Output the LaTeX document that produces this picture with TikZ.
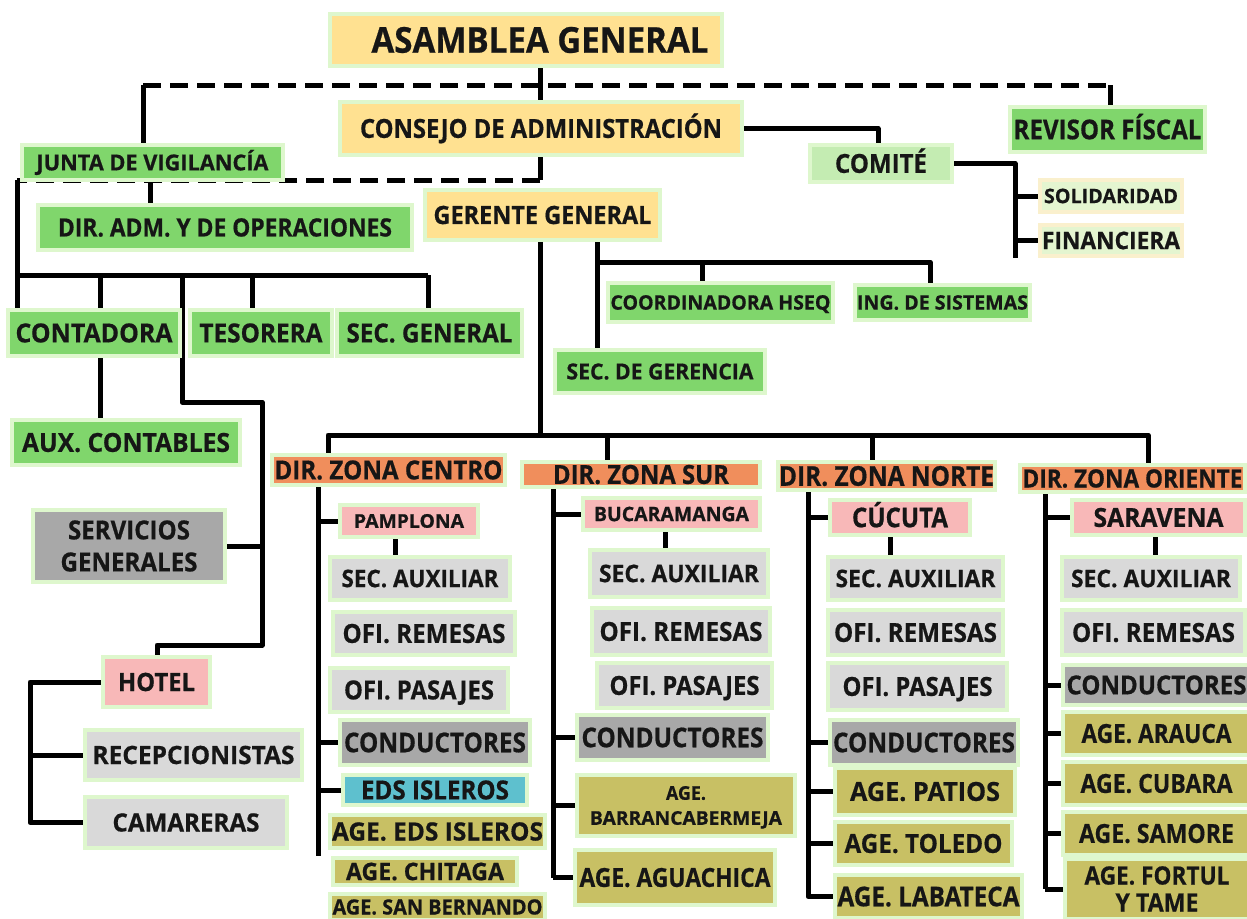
\documentclass[tikz,border=0pt]{standalone}
\usepackage{fontspec}
\setmainfont{Open Sans}[BoldFeatures={FakeBold=0.6}]
\usetikzlibrary{backgrounds,calc}
\definecolor{cy}{RGB}{255,225,145}
\definecolor{cg}{RGB}{128,214,108}
\definecolor{cgl}{RGB}{196,236,178}
\definecolor{cgv}{RGB}{228,245,208}
\definecolor{co}{RGB}{240,142,92}
\definecolor{cp}{RGB}{248,184,184}
\definecolor{cl}{RGB}{217,217,217}
\definecolor{cd}{RGB}{168,168,168}
\definecolor{cc}{RGB}{94,192,206}
\definecolor{cv}{RGB}{200,192,100}
\definecolor{glow}{RGB}{222,247,205}
\definecolor{glowy}{RGB}{250,240,205}
\definecolor{ink}{RGB}{22,22,22}
\newcommand\fitto[2]{\sbox0{#2}\pgfmathsetmacro\sx{#1/\the\wd0}\scalebox{\sx}[1]{\usebox0}}
\newcommand\T[3]{{\pgfmathsetmacro\fs{1.05*#1}\fontsize{\fs}{\fs}\selectfont\bfseries\smash{\fitto{#2}{#3}}\pgfmathsetmacro\ch{0.714*\fs}\rule{0pt}{\ch pt}}}
\tikzset{
  box/.style={rectangle, draw=glow, line width=4pt, inner sep=0pt, align=center, text=ink},
  ln/.style={line width=5pt, black, line join=round},
  dl/.style={line width=5pt, black, dash pattern=on 18pt off 9pt},
}
\newcommand\bx[7]{\node[box,fill=#6,minimum width={(#4-#2)*1pt},minimum height={(#5-#3)*1pt}] (#1) at ({(#2+#4)/2},{(#3+#5)/2}) {#7};}
\begin{document}
\begin{tikzpicture}[x=1pt,y=-1pt]
\useasboundingbox (0,0) rectangle (1247,918);
% top
\bx{asam}{330}{14}{722}{66}{cy}{\hspace*{28pt}\T{34}{337}{ASAMBLEA GENERAL}}
\bx{cons}{340}{102}{742}{155}{cy}{\T{25}{362}{CONSEJO DE ADMINISTRACIÓN}}
\bx{junta}{22}{145}{283}{180}{cg}{\T{21}{232}{JUNTA DE VIGILANCÍA}}
\bx{rev}{1010}{107}{1205}{152}{cg}{\T{26}{188}{REVISOR FÍSCAL}}
\bx{comite}{810}{145}{952}{182}{cgl}{\T{25}{92}{COMITÉ}}
\node[box,draw=glowy,fill=cgv,minimum width=142pt,minimum height=32pt] (soli) at (1111,196) {\T{19}{134}{SOLIDARIDAD}};
\node[box,draw=glowy,fill=cgv,minimum width=142pt,minimum height=31pt] (fin) at (1111,240.5) {\T{23}{138}{FINANCIERA}};
\bx{diradm}{38}{205}{412}{250}{cg}{\T{24}{334}{DIR. ADM. Y DE OPERACIONES}}
\bx{ger}{425}{190}{660}{240}{cy}{\T{24}{218}{GERENTE GENERAL}}
\bx{cont}{8}{310}{180}{356}{cg}{\T{25}{157}{CONTADORA}}
\bx{tes}{190}{310}{332}{356}{cg}{\T{25}{123}{TESORERA}}
\bx{secg}{337}{310}{522}{356}{cg}{\T{25}{166}{SEC. GENERAL}}
\bx{hseq}{608}{283}{833}{322}{cg}{\T{19}{220}{COORDINADORA HSEQ}}
\bx{ing}{855}{285}{1030}{320}{cg}{\T{19}{171}{ING. DE SISTEMAS}}
\bx{secger}{555}{350}{765}{393}{cg}{\T{21}{187}{SEC. DE GERENCIA}}
\bx{aux}{12}{420}{240}{465}{cg}{\T{25}{208}{AUX. CONTABLES}}
\node[box,fill=cd,minimum width=192pt,minimum height=72pt,font=\fontsize{25}{32}\selectfont] (serv) at (129,546) {\T{25}{122}{SERVICIOS}\\\T{25}{137}{GENERALES}};
\bx{hotel}{103}{657}{210}{707}{cp}{\T{24}{77}{HOTEL}}
\bx{recep}{85}{730}{302}{780}{cl}{\T{24}{202}{RECEPCIONISTAS}}
\bx{cam}{85}{797}{287}{848}{cl}{\T{24}{147}{CAMARERAS}}
% zones
\bx{zc}{272}{455}{505}{485}{co}{\T{25}{228}{DIR. ZONA CENTRO}}
\bx{zs}{522}{462}{760}{487}{co}{\T{25}{176}{DIR. ZONA SUR}}
\bx{zn}{778}{462}{995}{490}{co}{\T{26}{215}{DIR. ZONA NORTE}}
\bx{zo}{1020}{465}{1245}{492}{co}{\T{24}{220}{DIR. ZONA ORIENTE}}
% centro
\bx{c1}{340}{505}{478}{537}{cp}{\T{18}{110}{PAMPLONA}}
\bx{c2}{330}{557}{510}{600}{cl}{\T{23}{157}{SEC. AUXILIAR}}
\bx{c3}{333}{612}{515}{655}{cl}{\T{25}{163}{OFI. REMESAS}}
\bx{c4}{330}{668}{508}{712}{cl}{\T{25}{150}{OFI. PASAJES}}
\bx{c5}{340}{720}{530}{765}{cd}{\T{26}{182}{CONDUCTORES}}
\bx{c6}{343}{775}{527}{805}{cc}{\T{25}{148}{EDS ISLEROS}}
\bx{c7}{330}{815}{545}{848}{cv}{\T{24}{211}{AGE. EDS ISLEROS}}
\bx{c8}{333}{858}{517}{885}{cv}{\T{23}{158}{AGE. CHITAGA}}
\bx{c9}{330}{894}{545}{920}{cv}{\T{20}{210}{AGE. SAN BERNANDO}}
% sur
\bx{s1}{583}{498}{760}{530}{cp}{\T{19}{155}{BUCARAMANGA}}
\bx{s2}{590}{550}{768}{597}{cl}{\T{23}{160}{SEC. AUXILIAR}}
\bx{s3}{592}{608}{770}{655}{cl}{\T{25}{163}{OFI. REMESAS}}
\bx{s4}{597}{663}{772}{708}{cl}{\T{25}{150}{OFI. PASAJES}}
\bx{s5}{577}{715}{768}{760}{cd}{\T{26}{182}{CONDUCTORES}}
\node[box,fill=cv,minimum width=218pt,minimum height=61pt,font=\fontsize{18}{25}\selectfont] (s6) at (686,805.5) {\T{18}{40}{AGE.}\\\T{18}{192}{BARRANCABERMEJA}};
\bx{s7}{575}{850}{775}{905}{cv}{\T{25}{191}{AGE. AGUACHICA}}
% norte
\bx{n1}{830}{500}{970}{535}{cp}{\T{26}{96}{CÚCUTA}}
\bx{n2}{828}{557}{1003}{600}{cl}{\T{23}{160}{SEC. AUXILIAR}}
\bx{n3}{828}{610}{1003}{655}{cl}{\T{25}{163}{OFI. REMESAS}}
\bx{n4}{828}{663}{1007}{710}{cl}{\T{25}{150}{OFI. PASAJES}}
\bx{n5}{830}{720}{1018}{765}{cd}{\T{26}{182}{CONDUCTORES}}
\bx{n6}{835}{768}{1015}{815}{cv}{\T{25}{150}{AGE. PATIOS}}
\bx{n7}{835}{822}{1012}{865}{cv}{\T{25}{158}{AGE. TOLEDO}}
\bx{n8}{835}{875}{1022}{918}{cv}{\T{26}{182}{AGE. LABATECA}}
% oriente
\bx{o1}{1072}{500}{1245}{535}{cp}{\T{25}{130}{SARAVENA}}
\bx{o2}{1062}{557}{1240}{600}{cl}{\T{23}{160}{SEC. AUXILIAR}}
\bx{o3}{1062}{610}{1245}{655}{cl}{\T{25}{163}{OFI. REMESAS}}
\bx{o4}{1063}{665}{1250}{705}{cd}{\T{25}{180}{CONDUCTORES}}
\bx{o5}{1063}{712}{1250}{755}{cv}{\T{25}{150}{AGE. ARAUCA}}
\bx{o6}{1063}{762}{1250}{805}{cv}{\T{25}{152}{AGE. CUBARA}}
\bx{o7}{1063}{812}{1250}{855}{cv}{\T{25}{155}{AGE. SAMORE}}
\node[box,fill=cv,minimum width=185pt,minimum height=60pt,font=\fontsize{24}{27}\selectfont] (o8) at (1157,889) {\T{24}{145}{AGE. FORTUL}\\\T{24}{83}{Y TAME}};
% coordinates
\coordinate (xA) at (540,0);
\coordinate (yD1) at (0,85);
\coordinate (xJ) at (143,0);
\coordinate (xR) at (1110,0);
\coordinate (xCm) at (878,0);
\coordinate (xCb) at (1015,0);
\coordinate (yD2) at (0,180);
\coordinate (xL) at (17,0);
\coordinate (xDA) at (150,0);
\coordinate (yB) at (0,275);
\coordinate (xCo) at (100,0);
\coordinate (xT) at (252,0);
\coordinate (xS) at (428,0);
\coordinate (xH) at (182,0);
\coordinate (yH1) at (0,402);
\coordinate (xH2) at (262,0);
\coordinate (yH2) at (0,645);
\coordinate (xHo) at (157,0);
\coordinate (xHL) at (30,0);
\coordinate (xG2) at (597,0);
\coordinate (yG) at (0,262);
\coordinate (xHs) at (702,0);
\coordinate (xIn) at (930,0);
\coordinate (yZ) at (0,435);
\coordinate (xZ1) at (328,0);
\coordinate (xZ2) at (607,0);
\coordinate (xZ3) at (872,0);
\coordinate (xZ4) at (1148,0);
\coordinate (vC) at (318,0);
\coordinate (vS) at (553,0);
\coordinate (vN) at (808,0);
\coordinate (vO) at (1045,0);
\coordinate (tC) at (395,0);
\coordinate (tS) at (665,0);
\coordinate (tN) at (890,0);
\coordinate (tO) at (1155,0);
\begin{scope}[on background layer]
\fill[white] (0,0) rectangle (1247,918);
\draw[ln] (asam.south -| xA) -- (cons.north -| xA);
\draw[dl] (xJ |- yD1) -- (xR |- yD1);
\draw[ln] (junta.north -| xJ) -- (xJ |- yD1);
\draw[ln] (rev.north -| xR) -- (xR |- yD1);
\draw[ln] (cons.east) -- (xCm |- cons.east) -- (comite.north -| xCm);
\draw[ln] (comite.east) -- (xCb |- comite.east) -- (xCb |- fin.south);
\draw[ln] (xCb |- soli.west) -- (soli.west);
\draw[ln] (xCb |- fin.west) -- (fin.west);
\draw[ln] (cons.south -| xA) -- (xA |- yD2);
\draw[dl] (xA |- yD2) -- (xL |- yD2);
\draw[ln] (xL |- yD2) -- (cont.north -| xL);
\draw[ln] (diradm.north -| xDA) -- (xDA |- yD2);
\draw[ln] (xL |- yB) -- (xS |- yB);
\draw[ln] (xCo |- yB) -- (cont.north -| xCo);
\draw[ln] (xT |- yB) -- (tes.north -| xT);
\draw[ln] (xS |- yB) -- (secg.north -| xS);
\draw[ln] (cont.south -| xCo) -- (aux.north -| xCo);
\draw[ln] (xH |- yB) -- (xH |- yH1) -- (xH2 |- yH1) -- (xH2 |- yH2) -- (xHo |- yH2) -- (hotel.north -| xHo);
\draw[ln] (serv.east) -- (xH2 |- serv.east);
\draw[ln] (hotel.west) -- (xHL |- hotel.west) -- (xHL |- cam.west) -- (cam.west);
\draw[ln] (xHL |- recep.west) -- (recep.west);
\draw[ln] (ger.south -| xA) -- (xA |- yZ);
\draw[ln] (ger.south -| xG2) -- (secger.north -| xG2);
\draw[ln] (xG2 |- yG) -- (xIn |- yG) -- (ing.north -| xIn);
\draw[ln] (xHs |- yG) -- (hseq.north -| xHs);
\draw[ln] (zc.north -| xZ1) -- (xZ1 |- yZ) -- (xZ4 |- yZ) -- (zo.north -| xZ4);
\draw[ln] (xZ2 |- yZ) -- (zs.north -| xZ2);
\draw[ln] (xZ3 |- yZ) -- (zn.north -| xZ3);
% centro
\draw[ln] (zc.south -| vC) -- (vC |- c8.north);
\draw[ln] (vC |- c1.west) -- (c1.west);
\draw[ln] (vC |- c5.west) -- (c5.west);
\draw[ln] (vC |- c6.west) -- (c6.west);
\draw[ln] (c1.south -| tC) -- (c2.north -| tC);
% sur
\draw[ln] (zs.south -| vS) -- (vS |- s7.center);
\draw[ln] (vS |- s1.west) -- (s1.west);
\draw[ln] (vS |- s5.west) -- (s5.west);
\draw[ln] (vS |- s6.west) -- (s6.west);
\draw[ln] (vS |- s7.west) -- (s7.west);
\draw[ln] (s1.south -| tS) -- (s2.north -| tS);
% norte
\draw[ln] (zn.south -| vN) -- (vN |- n8.west) -- (n8.west);
\draw[ln] (vN |- n1.west) -- (n1.west);
\draw[ln] (vN |- n5.west) -- (n5.west);
\draw[ln] (vN |- n6.west) -- (n6.west);
\draw[ln] (vN |- n7.west) -- (n7.west);
\draw[ln] (n1.south -| tN) -- (n2.north -| tN);
% oriente
\draw[ln] (zo.south -| vO) -- (vO |- o8.west);
\draw[ln] (vO |- o1.west) -- (o1.west);
\draw[ln] (vO |- o4.west) -- (o4.west);
\draw[ln] (vO |- o5.west) -- (o5.west);
\draw[ln] (vO |- o6.west) -- (o6.west);
\draw[ln] (vO |- o7.west) -- (o7.west);
\draw[ln] (vO |- o8.west) -- (o8.west);
\draw[ln] (o1.south -| tO) -- (o2.north -| tO);
\end{scope}
\end{tikzpicture}
\end{document}
